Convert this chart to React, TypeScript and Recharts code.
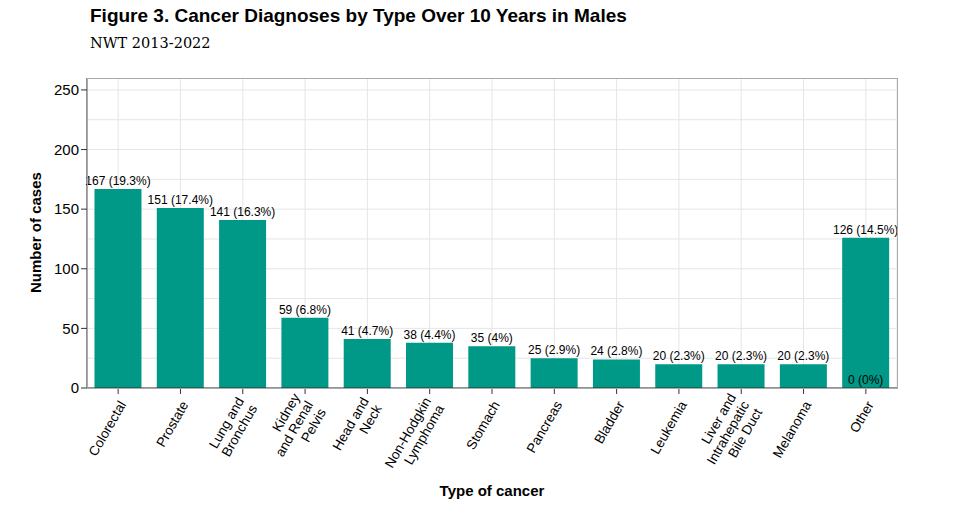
import React from "react";
import { BarChart, Bar, XAxis, YAxis, CartesianGrid, LabelList } from "recharts";

const categories = ["Colorectal", "Prostate", "Lung and\nBronchus", "Kidney\nand Renal\nPelvis", "Head and\nNeck", "Non-Hodgkin\nLymphoma", "Stomach", "Pancreas", "Bladder", "Leukemia", "Liver and\nIntrahepatic\nBile Duct", "Melanoma", "Other"];
const cases = [167, 151, 141, 59, 41, 38, 35, 25, 24, 20, 20, 20, 126];
const labels = ["167 (19.3%)", "151 (17.4%)", "141 (16.3%)", "59 (6.8%)", "41 (4.7%)", "38 (4.4%)", "35 (4%)", "25 (2.9%)", "24 (2.8%)", "20 (2.3%)", "20 (2.3%)", "20 (2.3%)", "126 (14.5%)"];
const yTicks = [0, 50, 100, 150, 200, 250];
const gridValues = [0, 25, 50, 75, 100, 125, 150, 175, 200, 225, 250];

const data = categories.map((c, i) => ({ name: c, value: cases[i], label: labels[i] }));
const FONT = "'Liberation Sans', Arial, sans-serif";

const Tick = (props: any) => {
  const { x, y, payload } = props;
  const lines = String(payload.value).split("\n");
  const n = lines.length;
  return (
    <g transform={`translate(${x + 4},${y + 6}) rotate(-60)`}>
      {lines.map((l, i) => (
        <text key={i} x={0} y={0} dy={(i - (n - 1) / 2) * 15 + 5} textAnchor="end" fontSize={13.5} fill="#000" fontFamily={FONT}>{l}</text>
      ))}
    </g>
  );
};

const ValLabel = (props: any) => {
  const { x, y, width, height, value, index } = props;
  const cx = x + width / 2;
  return (
    <g>
      <text x={cx} y={y - 4} textAnchor="middle" fontSize={12} fill="#000" fontFamily={FONT}>{value}</text>
      {index === categories.length - 1 && (
        <text x={cx} y={y + height - 4} textAnchor="middle" fontSize={12} fill="#000" fontFamily={FONT}>0 (0%)</text>
      )}
    </g>
  );
};

export default function App() {
  return (
    <div style={{ position: "absolute", left: 0, top: 0, width: 960, height: 521, background: "#fff" }}>
      <div style={{ position: "absolute", left: 90, top: 5, fontFamily: FONT, fontWeight: "bold", fontSize: 19 }}>
        Figure 3. Cancer Diagnoses by Type Over 10 Years in Males
      </div>
      <div style={{ position: "absolute", left: 90, top: 35, fontFamily: "'DejaVu Serif', serif", fontSize: 14.5 }}>NWT 2013-2022</div>
      <BarChart width={960} height={521} data={data} margin={{ top: 78, right: 63, bottom: 103, left: 0 }} barCategoryGap="12%">
        <CartesianGrid stroke="#e5e5e5" horizontalValues={gridValues} />
        <XAxis dataKey="name" height={30} tick={<Tick />} interval={0} tickLine={{ stroke: "#333" }} axisLine={{ stroke: "#333" }}
          label={{ value: "Type of cancer", position: "insideBottom", offset: -78, fontSize: 15, fontWeight: "bold", fill: "#000", fontFamily: FONT }} />
        <YAxis width={87} domain={[0, 260]} ticks={yTicks} tick={{ fontSize: 15, fill: "#000", fontFamily: FONT }} tickLine={{ stroke: "#333" }} axisLine={{ stroke: "#333" }}
          label={{ value: "Number of cases", angle: -90, position: "insideLeft", offset: 36, dy: 60, fontSize: 15, fontWeight: "bold", fill: "#000", fontFamily: FONT }} />
        <Bar dataKey="value" fill="#009987" isAnimationActive={false}>
          <LabelList dataKey="label" content={<ValLabel />} />
        </Bar>
      </BarChart>
      <div style={{ position: "absolute", left: 87, top: 78, width: 811, height: 311, border: "1px solid #aaa", boxSizing: "border-box", pointerEvents: "none" }} />
    </div>
  );
}
